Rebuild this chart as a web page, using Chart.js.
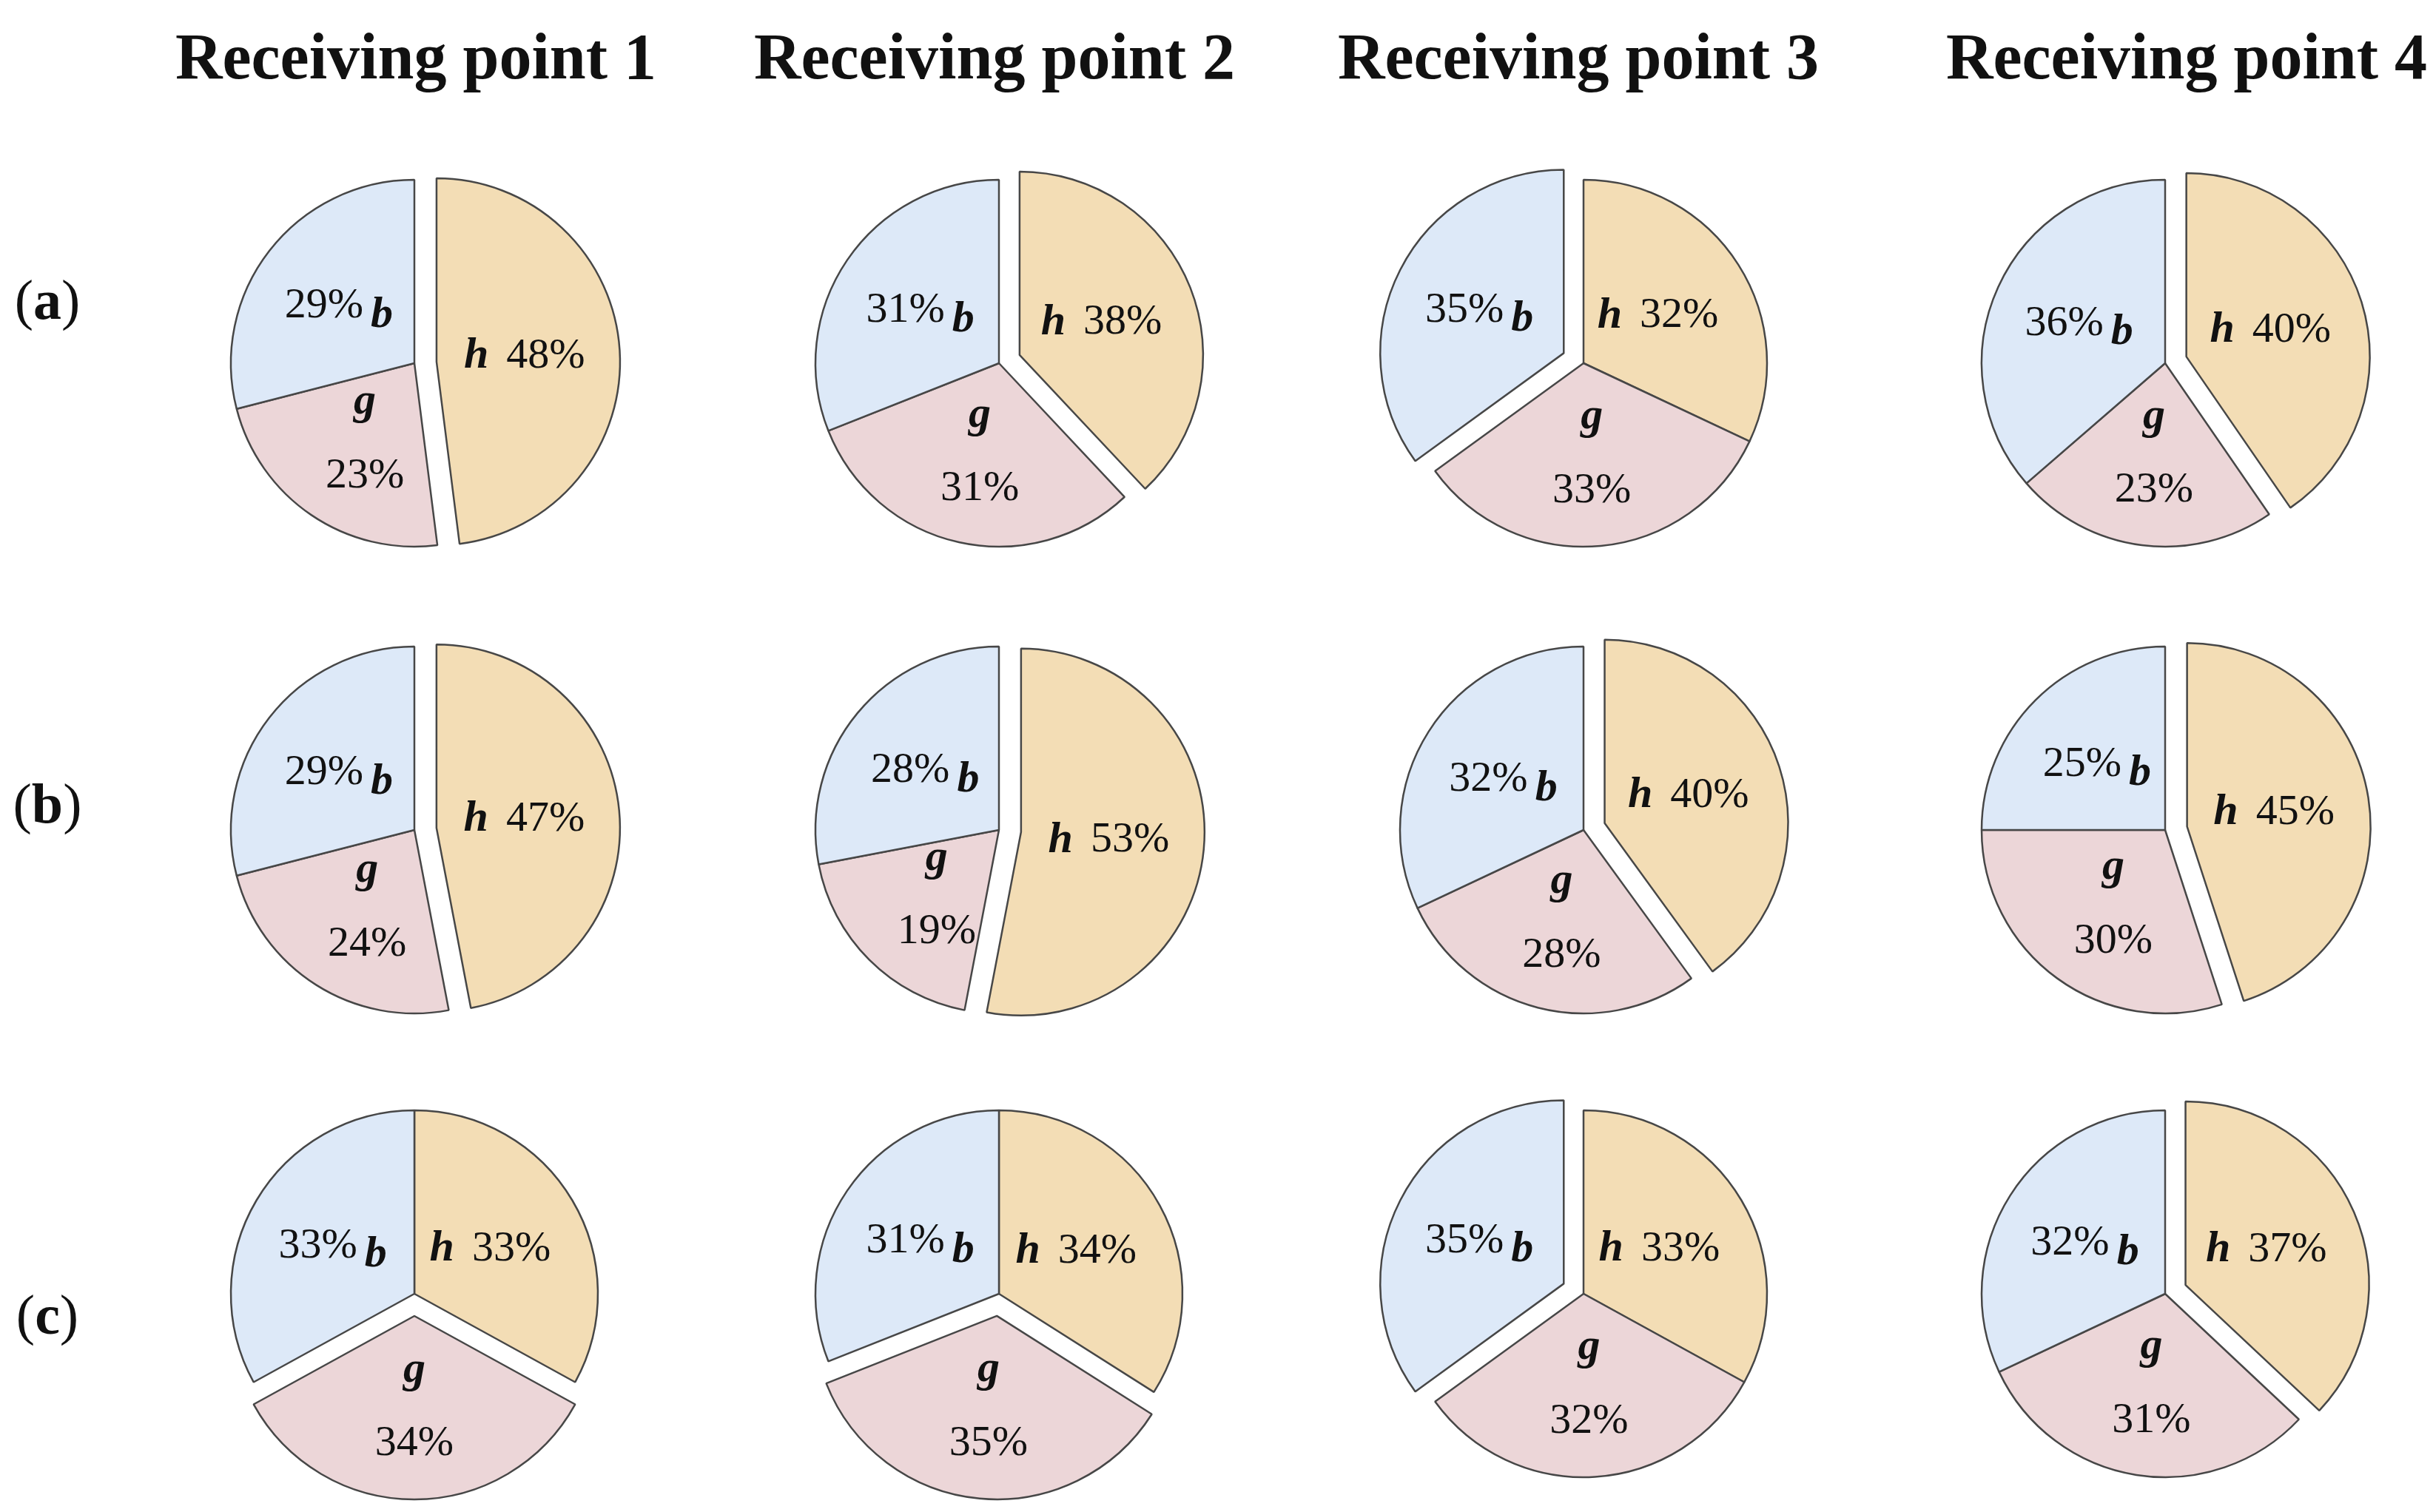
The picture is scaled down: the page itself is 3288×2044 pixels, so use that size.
<!DOCTYPE html>
<html>
<head>
<meta charset="utf-8">
<script src="https://cdn.jsdelivr.net/npm/chart.js@4.4.0/dist/chart.umd.min.js"></script>
<style>
  html, body { margin: 0; padding: 0; background: #fff; }
  body { width: 3288px; height: 2044px; position: relative; overflow: hidden;
         font-family: 'Liberation Serif', 'DejaVu Serif', serif; color: #111; }
  .title { position: absolute; top: 33px; font-size: 88px; line-height: 88px;
           font-weight: bold; white-space: nowrap; transform: translateX(-50%); }
  .row { position: absolute; left: 64px; font-size: 76px; line-height: 76px;
         white-space: nowrap; transform: translateX(-50%); }
  .row b { font-weight: bold; }
  canvas { position: absolute; }
</style>
</head>
<body>
<script>
// column / row names
const pointNames = ['Receiving point 1', 'Receiving point 2', 'Receiving point 3', 'Receiving point 4'];
const rowNames = ['a', 'b', 'c'];
const sliceNames = ['h', 'g', 'b'];

// shares in %, rows (a)(b)(c), columns point 1..4
const hShare = [[48, 38, 32, 40], [47, 53, 40, 45], [33, 34, 33, 37]];
const gShare = [[23, 31, 33, 23], [24, 19, 28, 30], [34, 35, 32, 31]];
const bShare = [[29, 31, 35, 36], [29, 28, 32, 25], [33, 31, 35, 32]];
const explodedSlice = [['h', 'h', 'b', 'h'], ['h', 'h', 'h', 'h'], ['g', 'g', 'b', 'h']];

const sliceColors = ['#f3ddb5', '#ecd6d8', '#dde9f8'];
const edgeColor = '#474747';

// layout
const titleX = [562, 1344, 2133, 2955];
const rowLabelTop = [367, 1048, 1739];
const pieX = [560, 1350, 2140, 2926];
const pieY = [491, 1122, 1749];
const pieRadius = 248;
const explodeDist = 30;
const canvasSize = 600;

pointNames.forEach((name, i) => {
    const el = document.createElement('div');
    el.className = 'title';
    el.style.left = titleX[i] + 'px';
    el.textContent = name;
    document.body.appendChild(el);
});

rowNames.forEach((name, i) => {
    const el = document.createElement('div');
    el.className = 'row';
    el.style.top = rowLabelTop[i] + 'px';
    el.innerHTML = '(<b>' + name + '</b>)';
    document.body.appendChild(el);
});

// move the chosen slice out along its middle angle
const explodePlugin = {
    id: 'explode',
    afterDatasetUpdate(chart, args, opts) {
        const arc = chart.getDatasetMeta(args.index).data[opts.index];
        if (!arc)
            return;
        const mid = (arc.startAngle + arc.endAngle) / 2;
        arc.x += Math.cos(mid) * opts.distance;
        arc.y += Math.sin(mid) * opts.distance;
    }
};

const letterFont = 'bold italic 60px "Liberation Serif"';
const pctFont = '58px "Liberation Serif"';

const sliceTextPlugin = {
    id: 'sliceText',
    afterDatasetsDraw(chart) {
        const ctx = chart.ctx;
        const meta = chart.getDatasetMeta(0);
        const values = chart.data.datasets[0].data;
        ctx.save();
        ctx.fillStyle = '#111';
        ctx.textBaseline = 'middle';
        meta.data.forEach((arc, i) => {
            const mid = (arc.startAngle + arc.endAngle) / 2;
            const d = arc.outerRadius * 0.48;
            const x = arc.x + Math.cos(mid) * d;
            const y = arc.y + Math.sin(mid) * d;
            const name = chart.data.labels[i];
            const pct = values[i] + '%';

            ctx.font = letterFont;
            const wL = ctx.measureText(name).width;
            ctx.font = pctFont;
            const wP = ctx.measureText(pct).width;
            ctx.textAlign = 'left';

            if (name === 'h') {
                const gap = 24;
                const x0 = x - (wL + gap + wP) / 2;
                ctx.font = letterFont;
                ctx.fillText(name, x0, y);
                ctx.font = pctFont;
                ctx.fillText(pct, x0 + wL + gap, y);
            } else if (name === 'b') {
                const gap = 10;
                const x0 = x - (wL + gap + wP) / 2 - 8;
                ctx.font = pctFont;
                ctx.fillText(pct, x0, y - 4);
                ctx.font = letterFont;
                ctx.fillText(name, x0 + wP + gap, y + 8);
            } else {
                ctx.textAlign = 'center';
                ctx.font = letterFont;
                ctx.fillText(name, x, y - 46);
                ctx.font = pctFont;
                ctx.fillText(pct, x, y + 54);
            }
        });
        ctx.restore();
    }
};

rowNames.forEach((row, r) => {
    pointNames.forEach((point, c) => {
        const canvas = document.createElement('canvas');
        canvas.width = canvasSize;
        canvas.height = canvasSize;
        canvas.style.left = (pieX[c] - canvasSize / 2) + 'px';
        canvas.style.top = (pieY[r] - canvasSize / 2) + 'px';
        canvas.style.width = canvasSize + 'px';
        canvas.style.height = canvasSize + 'px';
        document.body.appendChild(canvas);

        new Chart(canvas, {
            type: 'pie',
            data: {
                labels: sliceNames,
                datasets: [{
                    data: [hShare[r][c], gShare[r][c], bShare[r][c]],
                    backgroundColor: sliceColors,
                    borderColor: edgeColor,
                    borderWidth: 2.5
                }]
            },
            options: {
                responsive: false,
                devicePixelRatio: 1,
                animation: false,
                events: [],
                radius: pieRadius,
                layout: { padding: 0 },
                plugins: {
                    legend: { display: false },
                    tooltip: { enabled: false },
                    explode: { index: sliceNames.indexOf(explodedSlice[r][c]), distance: explodeDist }
                }
            },
            plugins: [explodePlugin, sliceTextPlugin]
        });
    });
});
</script>
</body>
</html>
